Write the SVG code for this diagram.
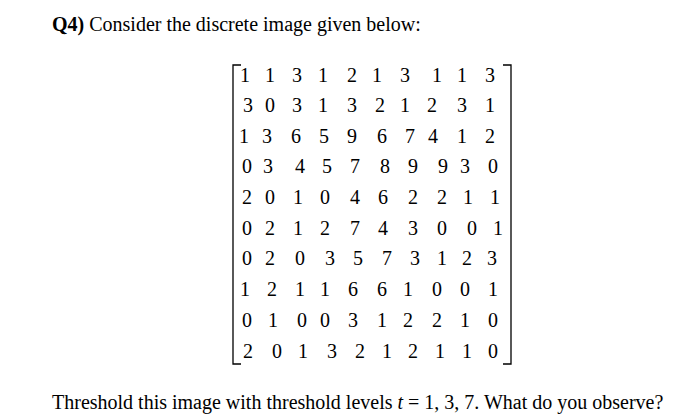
<svg xmlns="http://www.w3.org/2000/svg" width="695" height="420" viewBox="0 0 695 420">
<style>text{font-family:"Liberation Serif","Times New Roman",serif;font-size:20px;fill:#000}.d text{text-anchor:middle;font-size:20px}.b{fill:none;stroke:#000;stroke-width:1.3}</style>
<rect width="695" height="420" fill="#fff"/>
<text x="52" y="31"><tspan font-weight="bold">Q4)</tspan> Consider the discrete image given below:</text>
<g id="matrix">
<path class="b" d="M241,65 H233 V364 H241 M503,65 H511 V364 H503"/>
<g class="d">
<text y="82"><tspan x="245">1</tspan><tspan x="270">1</tspan><tspan x="297">3</tspan><tspan x="323">1</tspan><tspan x="352">2</tspan><tspan x="377">1</tspan><tspan x="405">3</tspan><tspan x="437">1</tspan><tspan x="462">1</tspan><tspan x="490">3</tspan></text>
<text y="112"><tspan x="248">3</tspan><tspan x="270">0</tspan><tspan x="297">3</tspan><tspan x="323">1</tspan><tspan x="352">3</tspan><tspan x="380">2</tspan><tspan x="405">1</tspan><tspan x="432">2</tspan><tspan x="462">3</tspan><tspan x="490">1</tspan></text>
<text y="143"><tspan x="244">1</tspan><tspan x="267">3</tspan><tspan x="296">6</tspan><tspan x="324">5</tspan><tspan x="352">9</tspan><tspan x="382">6</tspan><tspan x="410">7</tspan><tspan x="433">4</tspan><tspan x="462">1</tspan><tspan x="490">2</tspan></text>
<text y="173"><tspan x="247">0</tspan><tspan x="268">3</tspan><tspan x="300">4</tspan><tspan x="327">5</tspan><tspan x="355">7</tspan><tspan x="385">8</tspan><tspan x="413">9</tspan><tspan x="443">9</tspan><tspan x="465">3</tspan><tspan x="493">0</tspan></text>
<text y="204"><tspan x="247">2</tspan><tspan x="270">0</tspan><tspan x="298">1</tspan><tspan x="325">0</tspan><tspan x="355">4</tspan><tspan x="383">6</tspan><tspan x="413">2</tspan><tspan x="442">2</tspan><tspan x="468">1</tspan><tspan x="495">1</tspan></text>
<text y="235"><tspan x="247">0</tspan><tspan x="270">2</tspan><tspan x="298">1</tspan><tspan x="325">2</tspan><tspan x="355">7</tspan><tspan x="383">4</tspan><tspan x="413">3</tspan><tspan x="442">0</tspan><tspan x="472">0</tspan><tspan x="498">1</tspan></text>
<text y="265"><tspan x="247">0</tspan><tspan x="270">2</tspan><tspan x="300">0</tspan><tspan x="330">3</tspan><tspan x="358">5</tspan><tspan x="387">7</tspan><tspan x="415">3</tspan><tspan x="442">1</tspan><tspan x="467">2</tspan><tspan x="492">3</tspan></text>
<text y="296"><tspan x="245">1</tspan><tspan x="272">2</tspan><tspan x="300">1</tspan><tspan x="325">1</tspan><tspan x="353">6</tspan><tspan x="382">6</tspan><tspan x="408">1</tspan><tspan x="437">0</tspan><tspan x="465">0</tspan><tspan x="493">1</tspan></text>
<text y="327"><tspan x="247">0</tspan><tspan x="273">1</tspan><tspan x="302">0</tspan><tspan x="325">0</tspan><tspan x="353">3</tspan><tspan x="382">1</tspan><tspan x="408">2</tspan><tspan x="437">2</tspan><tspan x="465">1</tspan><tspan x="493">0</tspan></text>
<text y="358"><tspan x="248">2</tspan><tspan x="277">0</tspan><tspan x="303">1</tspan><tspan x="332">3</tspan><tspan x="360">2</tspan><tspan x="387">1</tspan><tspan x="413">2</tspan><tspan x="440">1</tspan><tspan x="467">1</tspan><tspan x="493">0</tspan></text>
</g>
</g>
<text x="52" y="409" font-size="20.8">Threshold this image with threshold levels <tspan font-style="italic">t</tspan> = 1, 3, 7. What do you observe?</text>
</svg>
